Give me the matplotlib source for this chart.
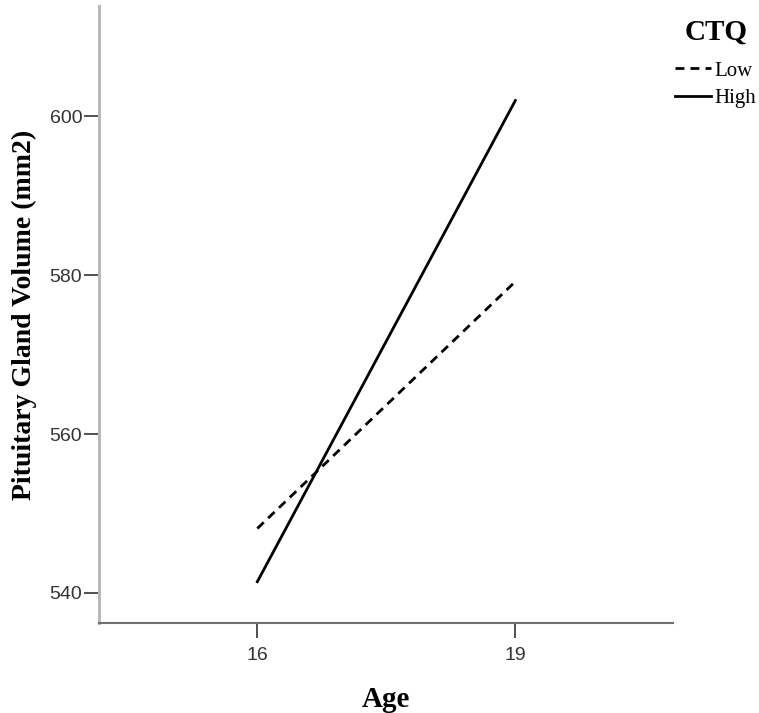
import matplotlib.pyplot as plt

# data
ages = ["16", "19"]
ctq_low = [548.1, 579.2]
ctq_high = [541.4, 602.0]
y_ticks = [540, 560, 580, 600]

serif = "Liberation Serif"
sans = "Liberation Sans"

fig = plt.figure(figsize=(7.59, 7.13), dpi=100)
ax = fig.add_axes([99 / 759, 90 / 713, 574 / 759, 617 / 713])

x = list(range(len(ages)))
ax.plot(x, ctq_low, color="black", lw=2.0, linestyle=(0, (3.2, 2.2)), label="Low")
ax.plot(x, ctq_high, color="black", lw=2.0, label="High")

ax.set_xlim(-0.6136, 1.611)
ax.set_ylim(536.2, 613.9)
ax.set_xticks(x)
ax.set_xticklabels(ages)
ax.set_yticks(y_ticks)

for s in ["top", "right"]:
    ax.spines[s].set_visible(False)
ax.spines["left"].set_color("#b8b8b8")
ax.spines["left"].set_linewidth(2.2)
ax.spines["bottom"].set_color("#707070")
ax.spines["bottom"].set_linewidth(1.5)

ax.tick_params(axis="both", length=11, width=1.2, color="#333333",
               labelsize=14, labelcolor="#333333")
ax.tick_params(axis="y", pad=1)
ax.tick_params(axis="x", pad=6)
for lab in ax.get_xticklabels() + ax.get_yticklabels():
    lab.set_family(sans)

ax.set_xlabel("Age", family=serif, fontweight="bold", fontsize=21)
ax.set_ylabel("Pituitary Gland Volume (mm2)", family=serif, fontweight="bold", fontsize=20)
ax.xaxis.set_label_coords(0.5, -0.102)
ax.yaxis.set_label_coords(-0.108, 0.5)

fig.text(716 / 759, 1 - 32 / 713, "CTQ", family=serif, fontweight="bold", fontsize=21,
         ha="center", va="center")
leg = ax.legend(loc="upper left", bbox_to_anchor=(675 / 759, 1 - 61 / 713),
                bbox_transform=fig.transFigure, frameon=False,
                prop={"family": serif, "size": 15},
                handlelength=1.75, handletextpad=0.15, labelspacing=0.38,
                borderpad=0, borderaxespad=0)

fig.savefig("out.png", dpi=100)
